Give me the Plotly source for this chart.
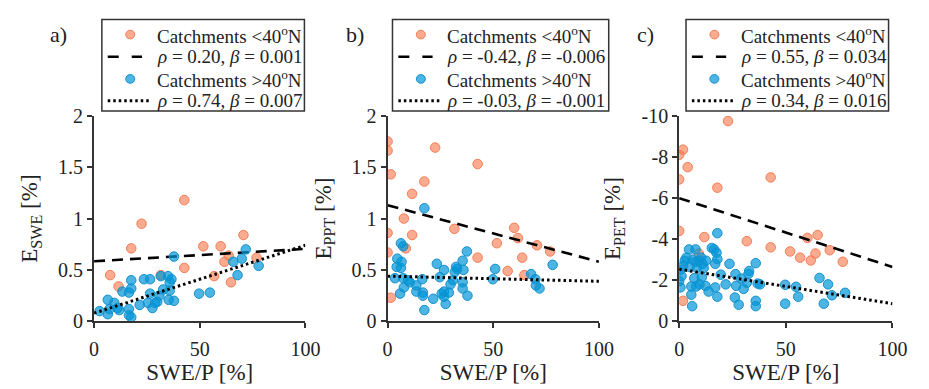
import plotly.graph_objects as go

# ---------------- data ----------------
# Panel a) E_SWE
a_south_x = [7.6, 11.6, 17.6, 22.5, 31.6, 42.7, 42.7, 51.7, 56.8, 59.9, 61.7, 63.7, 64.8, 70.7, 76.9]
a_south_y = [0.45, 0.34, 0.71, 0.95, 0.45, 1.18, 0.52, 0.73, 0.44, 0.73, 0.58, 0.64, 0.38, 0.84, 0.62]
a_north_x = [2.6, 6.5, 6.5, 7.3, 9.6, 11.1, 11.9, 13.4, 16.5, 17.6, 17.6, 16.5, 16.5, 17.6, 21.6,
             23.6, 26.5, 25.5, 26.5, 27.6, 28.9, 29.9, 30.9, 31.6, 32.7, 35.0, 35.8, 36.6, 35.8,
             35.3, 37.8, 37.8, 49.7, 54.8, 65.9, 67.9, 69.9, 71.8, 77.9]
a_north_y = [0.10, 0.21, 0.07, 0.12, 0.18, 0.13, 0.11, 0.29, 0.28, 0.32, 0.40, 0.12, 0.06, 0.04, 0.16,
             0.41, 0.41, 0.18, 0.27, 0.13, 0.18, 0.19, 0.25, 0.44, 0.31, 0.44, 0.38, 0.41, 0.30,
             0.21, 0.20, 0.63, 0.27, 0.28, 0.58, 0.45, 0.61, 0.70, 0.54]

# Panel b) E_PPT
b_south_x = [0, 0, 1.5, 0, 0, 1.5, 7.7, 8.6, 11.6, 11.6, 17.4, 22.5, 31.6, 42.6, 42.6,
             51.7, 56.8, 59.9, 61.7, 63.7, 64.7, 70.7, 76.9]
b_south_y = [1.75, 1.66, 1.43, 0.86, 0.67, 0.23, 1.00, 0.71, 1.24, 0.84, 1.36, 1.69, 0.90, 1.53, 0.62,
             0.76, 0.49, 0.91, 0.81, 0.62, 0.45, 0.74, 0.68]
b_north_x = [3.5, 4.3, 4.6, 5.9, 6.3, 6.6, 6.3, 7.4, 7.4, 7.7, 9.7, 10.5, 13.6, 13.6, 16.4, 16.7,
             16.7, 17.4, 17.4, 21.6, 23.3, 24.7, 25.6, 26.7, 26.7, 27.5, 26.7, 29.0, 29.8, 30.9,
             31.8, 32.4, 32.9, 35.5, 35.9, 35.5, 35.5, 37.5, 37.8, 49.8, 50.9, 67.9, 69.9, 70.2,
             71.9, 78.1]
b_north_y = [0.42, 0.53, 0.61, 0.27, 0.76, 0.58, 0.52, 0.73, 0.42, 0.33, 0.40, 0.38, 0.29, 0.35, 0.41,
             0.28, 0.25, 1.10, 0.11, 0.22, 0.56, 0.43, 0.27, 0.50, 0.29, 0.17, 0.24, 0.28, 0.36,
             0.40, 0.48, 0.53, 0.51, 0.59, 0.50, 0.38, 0.32, 0.68, 0.25, 0.41, 0.51, 0.46, 0.41,
             0.35, 0.32, 0.55]

# Panel c) E_PET
c_south_x = [0, 1.8, 0, 4.0, 0, 1.8, 9.2, 11.8, 17.9, 22.9, 31.7, 42.9, 42.9, 52.0, 56.7,
             60.1, 61.7, 63.9, 64.9, 70.6, 76.7]
c_south_y = [-8.1, -8.35, -6.9, -7.5, -4.4, -1.0, -3.3, -4.1, -6.5, -9.74, -3.9, -7.0, -3.6, -3.4, -3.1,
             -4.06, -2.96, -3.3, -4.2, -3.46, -2.9]
c_north_x = [0, 0.3, 0.6, 1.1, 1.8, 2.6, 3.4, 4.6, 4.9, 5.7, 5.7, 6.1, 6.4, 7.1, 7.7, 7.7, 8.0,
             8.3, 9.2, 9.5, 10.3, 10.6, 11.0, 11.5, 12.6, 12.3, 13.8, 15.3, 16.4, 16.9, 16.9,
             17.5, 17.9, 17.9, 17.9, 19.5, 21.8, 23.6, 26.1, 26.4, 26.7, 27.9, 29.1, 30.2, 31.7,
             32.8, 32.5, 35.9, 35.9, 35.9, 36.8, 37.9, 49.7, 49.7, 54.8, 55.8, 65.8, 67.8, 69.8,
             71.6, 77.8]
c_north_y = [-1.96, -2.5, -1.65, -2.2, -2.7, -2.95, -3.1, -3.5, -2.65, -1.7, -1.3, -0.74, -3.0, -2.1,
             -3.5, -2.9, -1.7, -2.6, -2.95, -1.8, -3.1, -2.15, -2.8, -2.6, -2.95, -1.73, -1.45,
             -3.57, -3.5, -1.65, -2.8, -3.34, -3.03, -4.29, -1.2, -2.27, -1.8, -2.8, -1.16, -2.3,
             -1.73, -0.81, -2.08, -1.58, -1.88, -2.45, -2.31, -2.83, -1.0, -0.74, -1.84, -1.8,
             -1.78, -0.86, -1.68, -1.2, -2.11, -0.86, -1.8, -1.27, -1.39]

# regression lines: intercept, slope (south, north)
fit_a = [(0.585, 0.0012), (0.08, 0.0066)]
fit_b = [(1.13, -0.0055), (0.44, -0.0005)]
fit_c = [(-5.99, 0.0334), (-2.54, 0.0168)]
fit_x = [0, 100]

stats_a = ["<i>ρ</i> = 0.20, <i>β</i> = 0.001", "<i>ρ</i> = 0.74, <i>β</i> = 0.007"]
stats_b = ["<i>ρ</i> = -0.42, <i>β</i> = -0.006", "<i>ρ</i> = -0.03, <i>β</i> = -0.001"]
stats_c = ["<i>ρ</i> = 0.55, <i>β</i> = 0.034", "<i>ρ</i> = 0.34, <i>β</i> = 0.016"]
group_names = ["Catchments &lt;40<sup>o</sup>N", "Catchments &gt;40<sup>o</sup>N"]

ytitles = ["E<sub>SWE</sub> [%]", "E<sub>PPT</sub> [%]", "E<sub>PET</sub> [%]"]
panel_labels = ["a)", "b)", "c)"]
x_ticks = [0, 50, 100]

# ---------------- styling ----------------
W, H = 929, 389
FONT = "Liberation Serif"
TXT = "#222222"
AX = "#333333"
south_fill = "rgba(248,120,75,0.62)"
south_line = "rgb(245,125,85)"
north_fill = "rgba(0,150,215,0.70)"
north_line = "rgb(20,145,205)"
DASH_PLOT = "11px,7px"
DOT_PLOT = "2.5px,3px"

x_domains = [(91 / W, 307 / W), (391 / W, 607 / W), (689 / W, 907 / W)]
y_domain = (1 - 329 / H, 1 - 111 / H)
legend_box = [(99, 306), (396, 617), (696, 903)]   # pixel left/right of legend frames
legend_top, legend_bottom = 9, 106
legend_rows = [25, 48.5, 72, 95]
label_x = [55, 358, 655]


def px(x):
    return x / W


def py(y):
    return 1 - y / H


fig = go.Figure()

panels = [
    (a_south_x, a_south_y, a_north_x, a_north_y, fit_a, stats_a),
    (b_south_x, b_south_y, b_north_x, b_north_y, fit_b, stats_b),
    (c_south_x, c_south_y, c_north_x, c_north_y, fit_c, stats_c),
]

shapes = []
for i, (sx, sy, nx, ny, fit, stats) in enumerate(panels):
    k = "" if i == 0 else str(i + 1)
    xa, ya = "x" + k, "y" + k
    fig.add_trace(go.Scatter(
        x=sx, y=sy, mode="markers", xaxis=xa, yaxis=ya, name=group_names[0],
        marker=dict(size=9.5, color=south_fill, line=dict(color=south_line, width=1)),
    ))
    fig.add_trace(go.Scatter(
        x=fit_x, y=[fit[0][0] + fit[0][1] * v for v in fit_x], mode="lines",
        xaxis=xa, yaxis=ya, name=stats[0],
        line=dict(color="black", width=2.6, dash=DASH_PLOT),
    ))
    fig.add_trace(go.Scatter(
        x=nx, y=ny, mode="markers", xaxis=xa, yaxis=ya, name=group_names[1],
        marker=dict(size=9.5, color=north_fill, line=dict(color=north_line, width=1)),
    ))
    fig.add_trace(go.Scatter(
        x=fit_x, y=[fit[1][0] + fit[1][1] * v for v in fit_x], mode="lines",
        xaxis=xa, yaxis=ya, name=stats[1],
        line=dict(color="black", width=3, dash=DOT_PLOT),
    ))

    xaxis = dict(
        domain=x_domains[i], anchor=ya, range=[0, 100], tickvals=x_ticks,
        showline=True, linecolor=AX, linewidth=2, ticks="outside", ticklen=5,
        tickcolor=AX, tickwidth=1.5, showgrid=False, zeroline=False, ticklabelstandoff=4,
        tickfont=dict(family=FONT, size=20, color=TXT),
        title=dict(text="SWE/P [%]", font=dict(family=FONT, size=23, color=TXT), standoff=1),
    )
    if i < 2:
        yaxis = dict(range=[0, 2], tickvals=[0, 0.5, 1, 1.5, 2], ticktext=["0", "0.5", "1", "1.5", "2"])
    else:
        yaxis = dict(range=[0, -10], tickvals=[0, -2, -4, -6, -8, -10],
                     ticktext=["0", "-2", "-4", "-6", "-8", "-10"])
    yaxis.update(
        domain=y_domain, anchor=xa, showline=True, linecolor=AX, linewidth=2,
        ticks="outside", ticklen=5, tickcolor=AX, tickwidth=1.5, showgrid=False,
        zeroline=False, tickfont=dict(family=FONT, size=20, color=TXT),
        title=dict(text=ytitles[i], font=dict(family=FONT, size=23, color=TXT), standoff=14),
    )
    fig.update_layout(**{"xaxis" + k: xaxis, "yaxis" + k: yaxis})

    # ---- legend frame drawn by hand (tight MATLAB-like layout) ----
    L, R = legend_box[i]
    shapes.append(dict(type="rect", xref="paper", yref="paper",
                       x0=px(L), x1=px(R), y0=py(legend_bottom), y1=py(legend_top),
                       line=dict(color=AX, width=1.5), fillcolor="white", layer="above"))
    labels = [group_names[0], stats[0], group_names[1], stats[1]]
    for r, (lab, yrow) in enumerate(zip(labels, legend_rows)):
        fig.add_annotation(x=px(L + 54), y=py(yrow), xref="paper", yref="paper",
                           text=lab, showarrow=False, xanchor="left", yanchor="middle",
                           font=dict(family=FONT, size=19, color=TXT))
    for r, (fill, edge) in zip([0, 2], [(south_fill, south_line), (north_fill, north_line)]):
        cx, cy, rad = L + 29, legend_rows[r], 4.6
        shapes.append(dict(type="circle", xref="paper", yref="paper",
                           x0=px(cx - rad), x1=px(cx + rad), y0=py(cy + rad), y1=py(cy - rad),
                           fillcolor=fill, line=dict(color=edge, width=1), layer="above"))
    shapes.append(dict(type="line", xref="paper", yref="paper",
                       x0=px(L + 6), x1=px(L + 41), y0=py(legend_rows[1]), y1=py(legend_rows[1]),
                       line=dict(color="black", width=2.6, dash="11px,13px"), layer="above"))
    shapes.append(dict(type="line", xref="paper", yref="paper",
                       x0=px(L + 6), x1=px(L + 48), y0=py(legend_rows[3]), y1=py(legend_rows[3]),
                       line=dict(color="black", width=3, dash=DOT_PLOT), layer="above"))

    fig.add_annotation(
        x=px(label_x[i]), y=py(25), xref="paper", yref="paper",
        text=panel_labels[i], showarrow=False, xanchor="center", yanchor="middle",
        font=dict(family=FONT, size=22, color=TXT),
    )

fig.update_layout(
    width=W, height=H, margin=dict(l=0, r=0, t=0, b=0), shapes=shapes,
    paper_bgcolor="white", plot_bgcolor="white", showlegend=False,
)

fig.write_html("out.html")
